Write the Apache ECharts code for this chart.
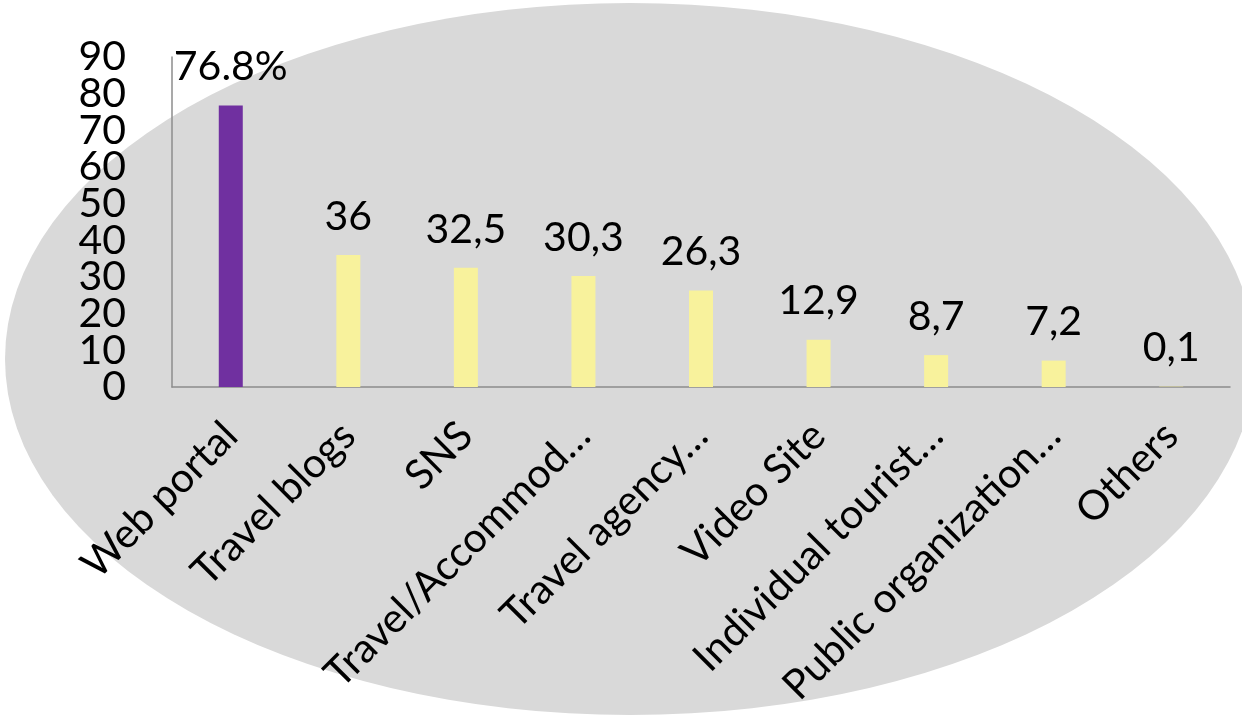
<!DOCTYPE html>
<html>
<head>
<meta charset="utf-8">
<script src="https://cdn.jsdelivr.net/npm/echarts@6/dist/echarts.min.js"></script>
<style>
  html, body { margin: 0; padding: 0; background: #ffffff; }
  #chart { width: 1242px; height: 715px; }
</style>
</head>
<body>
<div id="chart"></div>
<script>
// Information sources used when planning a trip (share of respondents)
const categories = [
  'Web portal', 'Travel blogs', 'SNS', 'Travel/Accommod…', 'Travel agency…',
  'Video Site', 'Individual tourist…', 'Public organization…', 'Others'
];
const values = [76.8, 36, 32.5, 30.3, 26.3, 12.9, 8.7, 7.2, 0.1];
const valueLabels = ['76.8%', '36', '32,5', '30,3', '26,3', '12,9', '8,7', '7,2', '0,1'];
const yTicks = [0, 10, 20, 30, 40, 50, 60, 70, 80, 90];

const FONT = 'Lato';
const chart = echarts.init(document.getElementById('chart'), null, { renderer: 'canvas' });

const barData = values.map((v, i) => ({
  value: v,
  itemStyle: { color: i === 0 ? '#7030a0' : '#f8f29c' },
  label: { formatter: valueLabels[i] }
}));

// The tick labels are tightly packed, so they are split over two
// coincident value axes (even and odd tens) to keep all of them visible.
function valueAxis(showEven, showLine) {
  return {
    type: 'value',
    position: 'left',
    min: 0,
    max: 90,
    interval: 10,
    splitLine: { show: false },
    axisLine: { show: showLine, lineStyle: { color: '#8c8c8c', width: 1.5 } },
    axisTick: { show: false },
    axisLabel: {
      margin: 46,
      showMinLabel: true,
      showMaxLabel: true,
      hideOverlap: false,
      color: '#000000',
      fontFamily: FONT,
      fontSize: 41,
      formatter: v => {
        const shown = yTicks.includes(v) && ((v / 10) % 2 === 0) === showEven;
        return shown ? String(v) : '';
      }
    }
  };
}

chart.setOption({
  animation: false,
  backgroundColor: '#ffffff',
  textStyle: { fontFamily: FONT },
  graphic: [{
    type: 'circle',
    silent: true,
    z: -10,
    x: 630, y: 359,
    scaleX: 625 / 356,
    shape: { cx: 0, cy: 0, r: 356 },
    style: { fill: '#d9d9d9' }
  }],
  grid: { left: 172, right: 12, top: 57, bottom: 328, containLabel: false },
  xAxis: {
    type: 'category',
    data: categories,
    axisLine: { show: true, lineStyle: { color: '#8c8c8c', width: 1.5 } },
    axisTick: { show: false },
    axisLabel: {
      rotate: 45,
      margin: 42,
      interval: 0,
      hideOverlap: false,
      color: '#000000',
      fontFamily: FONT,
      fontSize: 41
    }
  },
  yAxis: [valueAxis(true, true), valueAxis(false, false)],
  series: [{
    type: 'bar',
    yAxisIndex: 0,
    data: barData,
    barWidth: 24,
    label: {
      show: true,
      position: 'top',
      distance: 18,
      color: '#000000',
      fontFamily: FONT,
      fontSize: 41
    }
  }]
});
</script>
</body>
</html>
